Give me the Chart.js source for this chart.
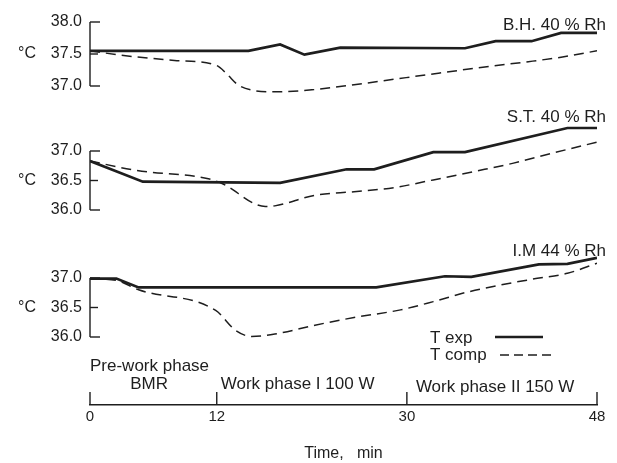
<!DOCTYPE html>
<html>
<head>
<meta charset="utf-8">
<script src="https://cdn.jsdelivr.net/npm/chart.js@4.4.1/dist/chart.umd.min.js"></script>
<style>
  html, body { margin: 0; padding: 0; background: #fff; }
</style>
</head>
<body>
<canvas id="chart" width="617" height="463"></canvas>
<script>
// time axis and labels
const timeTicks = [0, 12, 30, 48];
const phaseNames = ['Pre-work phase', 'BMR', 'Work phase I 100 W', 'Work phase II 150 W'];
const seriesNames = ['T exp', 'T comp'];
const panelNames = ['B.H. 40 % Rh', 'S.T. 40 % Rh', 'I.M 44 % Rh'];
const bhTicks = [38.0, 37.5, 37.0];
const stTicks = [37.0, 36.5, 36.0];
const imTicks = [37.0, 36.5, 36.0];

// B.H. 40 % Rh
const bhExpTime = [0, 15, 18, 20.3, 23.7, 35.5, 38.4, 41.8, 44.6, 48];
const bhExp = [37.55, 37.55, 37.65, 37.49, 37.6, 37.59, 37.7, 37.7, 37.83, 37.83];
const bhCompTime = [0, 3, 8, 12, 13, 14, 15.5, 17.5, 21, 25, 29, 33, 37, 41.5, 44.6, 48];
const bhComp = [37.55, 37.48, 37.4, 37.32, 37.18, 37.02, 36.93, 36.91, 36.94, 37.02, 37.11, 37.2, 37.29, 37.38, 37.45, 37.55];

// S.T. 40 % Rh
const stExpTime = [0, 5, 18, 24.3, 26.9, 32.5, 35.5, 45.2, 48];
const stExp = [36.83, 36.48, 36.46, 36.69, 36.69, 36.98, 36.98, 37.39, 37.39];
const stCompTime = [0, 4.4, 11.2, 12.5, 16.6, 17.5, 21.3, 25, 28.8, 32.5, 36.3, 40, 43.7, 48];
const stComp = [36.83, 36.67, 36.53, 36.45, 36.06, 36.07, 36.25, 36.31, 36.38, 36.51, 36.65, 36.79, 36.96, 37.15];

// I.M 44 % Rh
const imExpTime = [0, 2.5, 4.6, 27.1, 33.6, 36.1, 42.5, 45.2, 48];
const imExp = [36.99, 36.99, 36.84, 36.84, 37.03, 37.02, 37.23, 37.24, 37.34];
const imCompTime = [0, 2.5, 4.6, 11.9, 13.8, 15.3, 17.5, 21.3, 25, 29.4, 32.5, 35.7, 38.8, 41.9, 45.2, 48];
const imComp = [36.99, 36.96, 36.8, 36.45, 36.11, 36.01, 36.05, 36.2, 36.33, 36.46, 36.6, 36.76, 36.88, 36.98, 37.08, 37.25];

const ink = '#1e1e1e';
const font = '"Liberation Sans", Arial, sans-serif';

// chart area runs from y=10 to y=405; each panel gets its own y scale
function yRange(topVal, topPx, perDeg) {
  const top = 10, bottom = 405;
  const max = topVal + (topPx - top) / perDeg;
  return { min: max - (bottom - top) / perDeg, max: max };
}

function pts(t, v) {
  return t.map((x, i) => ({ x: x, y: v[i] }));
}

function expSet(t, v, axis) {
  return {
    label: seriesNames[0], data: pts(t, v), yAxisID: axis,
    borderColor: ink, borderWidth: 2.7, pointRadius: 0, tension: 0, fill: false
  };
}
function compSet(t, v, axis) {
  return {
    label: seriesNames[1], data: pts(t, v), yAxisID: axis,
    borderColor: ink, borderWidth: 1.5, borderDash: [10, 6], pointRadius: 0,
    cubicInterpolationMode: 'monotone', fill: false
  };
}

const panels = [
  { axis: 'y1', ticks: bhTicks, name: panelNames[0], nameDy: 3 },
  { axis: 'y2', ticks: stTicks, name: panelNames[1], nameDy: -34 },
  { axis: 'y3', ticks: imTicks, name: panelNames[2], nameDy: -27 }
];

const frame = {
  id: 'frame',
  beforeDatasetsDraw(chart) {
    const ctx = chart.ctx;
    const area = chart.chartArea;
    const x = chart.scales.x;
    ctx.save();
    ctx.strokeStyle = ink;
    ctx.fillStyle = ink;
    ctx.lineWidth = 1.4;
    panels.forEach(p => {
      const s = chart.scales[p.axis];
      const yTop = s.getPixelForValue(p.ticks[0]);
      const yBot = s.getPixelForValue(p.ticks[p.ticks.length - 1]);
      ctx.beginPath();
      ctx.moveTo(area.left, yTop);
      ctx.lineTo(area.left, yBot);
      ctx.stroke();
      ctx.font = '16px ' + font;
      ctx.textBaseline = 'middle';
      p.ticks.forEach((v, i) => {
        const y = s.getPixelForValue(v);
        ctx.beginPath();
        ctx.moveTo(area.left, y);
        ctx.lineTo(area.left + (i === 1 ? 8 : 10), y);
        ctx.stroke();
        ctx.textAlign = 'right';
        ctx.fillText(v.toFixed(1), area.left - 8, y);
        if (i === 1) {
          ctx.textAlign = 'left';
          ctx.fillText('°C', 18, y);
        }
      });
      ctx.font = '17px ' + font;
      ctx.textAlign = 'right';
      ctx.fillText(p.name, area.right + 9, yTop + p.nameDy);
    });

    // upward ticks on the time axis
    timeTicks.forEach(t => {
      const px = x.getPixelForValue(t);
      ctx.beginPath();
      ctx.moveTo(px, area.bottom);
      ctx.lineTo(px, area.bottom - 13);
      ctx.stroke();
    });

    // phase labels
    ctx.font = '17px ' + font;
    ctx.textAlign = 'left';
    ctx.fillText(phaseNames[0], x.getPixelForValue(0), 366);
    ctx.textAlign = 'center';
    ctx.fillText(phaseNames[1], x.getPixelForValue(5.6), 384);
    ctx.textAlign = 'left';
    ctx.fillText(phaseNames[2], x.getPixelForValue(12) + 4, 384);
    ctx.fillText(phaseNames[3], x.getPixelForValue(30) + 9, 387);

    // legend
    ctx.fillText(seriesNames[0], 430, 338);
    ctx.fillText(seriesNames[1], 430, 355);
    ctx.lineWidth = 2.4;
    ctx.beginPath();
    ctx.moveTo(495, 337);
    ctx.lineTo(543, 337);
    ctx.stroke();
    ctx.lineWidth = 1.5;
    ctx.setLineDash([9, 5]);
    ctx.beginPath();
    ctx.moveTo(500, 355);
    ctx.lineTo(554, 355);
    ctx.stroke();
    ctx.restore();
  }
};

const hiddenY = r => ({ type: 'linear', display: false, min: r.min, max: r.max });

new Chart(document.getElementById('chart').getContext('2d'), {
  type: 'line',
  data: {
    datasets: [
      expSet(bhExpTime, bhExp, 'y1'),
      compSet(bhCompTime, bhComp, 'y1'),
      expSet(stExpTime, stExp, 'y2'),
      compSet(stCompTime, stComp, 'y2'),
      expSet(imExpTime, imExp, 'y3'),
      compSet(imCompTime, imComp, 'y3')
    ]
  },
  options: {
    responsive: false,
    animation: false,
    layout: { padding: { left: 90, right: 20, top: 10, bottom: 0 } },
    plugins: {
      legend: { display: false },
      tooltip: { enabled: false }
    },
    scales: {
      x: {
        type: 'linear',
        min: 0,
        max: 48,
        afterBuildTicks: s => { s.ticks = timeTicks.map(v => ({ value: v })); },
        afterFit: s => { s.height = 58; },
        grid: { display: false, drawTicks: false },
        border: { display: true, color: ink, width: 1.5 },
        ticks: { color: ink, font: { family: font, size: 15 }, padding: 3, maxRotation: 0 },
        title: {
          display: true, text: 'Time,   min', color: ink,
          font: { family: font, size: 16 }, padding: { top: 0, bottom: 0 }
        }
      },
      y1: hiddenY(yRange(38.0, 22, 64)),
      y2: hiddenY(yRange(37.0, 151, 59)),
      y3: hiddenY(yRange(37.0, 278, 59))
    }
  },
  plugins: [frame]
});
</script>
</body>
</html>
